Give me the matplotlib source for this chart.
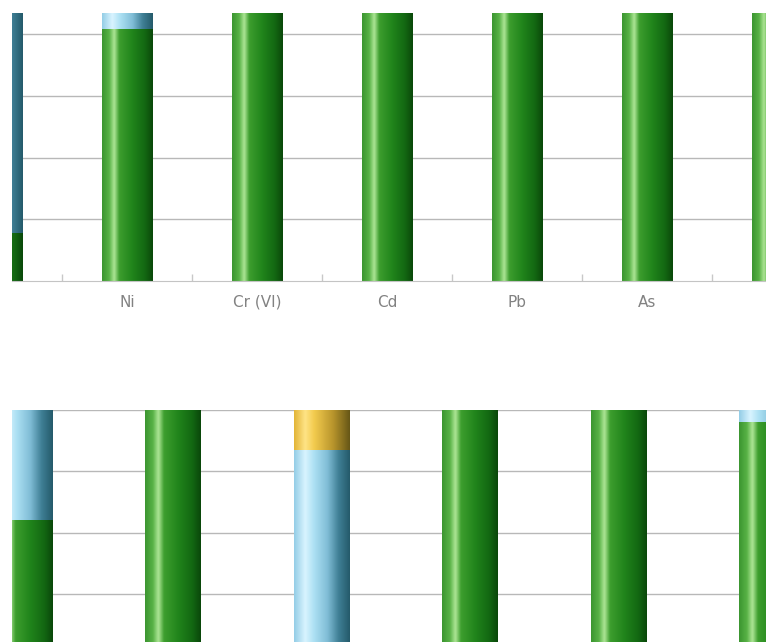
import numpy as np
import matplotlib
matplotlib.use("Agg")
import matplotlib.pyplot as plt
from matplotlib.colors import LinearSegmentedColormap

# -----------------------------
# Data (shares per category, %)
# -----------------------------
top_labels = ["", "Ni", "Cr (VI)", "Cd", "Pb", "As", ""]
top_green = [18, 94, 100, 100, 100, 100, 100]
top_blue = [82, 6, 0, 0, 0, 0, 0]

bottom_green = [64, 100, 0, 100, 100, 96]
bottom_blue = [36, 0, 87, 0, 0, 4]
bottom_yellow = [0, 0, 13, 0, 0, 0]

# -----------------------------
# Cylinder-like shading
# -----------------------------
cm_green = LinearSegmentedColormap.from_list("g", [
    (0.0, "#3b9530"), (0.14, "#58b246"), (0.24, "#aee696"), (0.34, "#3d9e2e"),
    (0.6, "#20841b"), (0.85, "#136712"), (1.0, "#0a470a")])
cm_blue = LinearSegmentedColormap.from_list("b", [
    (0.0, "#93cde6"), (0.2, "#d9f4ff"), (0.36, "#ace0f3"), (0.6, "#80bdd6"),
    (0.8, "#3f7f95"), (1.0, "#245a6a")])
cm_yellow = LinearSegmentedColormap.from_list("y", [
    (0.0, "#e2b436"), (0.2, "#ffe486"), (0.36, "#f3cb4e"), (0.7, "#b8952c"),
    (1.0, "#665616")])

grad = np.linspace(0, 1, 256).reshape(1, -1)


def shade(ax, bars, cmap):
    for p in bars:
        h = p.get_height()
        if h <= 0:
            continue
        x0, y0, w = p.get_x(), p.get_y(), p.get_width()
        ax.imshow(grad, cmap=cmap, aspect="auto", interpolation="bicubic",
                  extent=[x0, x0 + w, y0, y0 + h], zorder=2)
        p.set_visible(False)


W, H = 766, 642
fig = plt.figure(figsize=(W / 100, H / 100), dpi=100)

# -----------------------------
# Top panel
# -----------------------------
ax1 = fig.add_axes([12 / W, (H - 281) / H, (W - 12) / W, 268 / H])
x1 = np.arange(len(top_labels))
b = ax1.bar(x1, top_green, width=0.385)
shade(ax1, b, cm_green)
b = ax1.bar(x1, top_blue, width=0.385, bottom=top_green)
shade(ax1, b, cm_blue)

ax1.set_yticks([23, 46, 69, 92])
ax1.set_xticks(x1)
ax1.set_xticklabels(top_labels, color="#828282", fontsize=11)
ax1.set_xticks(x1[:-1] + 0.5, minor=True)
ax1.set_xlim(0.115, 5.915)
ax1.set_ylim(0, 100)
ax1.tick_params(axis="x", which="major", length=0, pad=10)
ax1.tick_params(axis="x", which="minor", direction="in", length=5,
                color="#c8c8c8", width=1)
ax1.tick_params(axis="y", length=0, labelleft=False)
ax1.yaxis.grid(True, color="#b8b8b8", linewidth=1)
ax1.set_axisbelow(True)
for s in ["top", "left", "right"]:
    ax1.spines[s].set_visible(False)
ax1.spines["bottom"].set_color("#c4c4c4")

# -----------------------------
# Bottom panel
# -----------------------------
ax2 = fig.add_axes([12 / W, (H - 716.5) / H, (W - 12) / W, 306.5 / H])
x2 = np.arange(len(bottom_green))
b = ax2.bar(x2, bottom_green, width=0.377)
shade(ax2, b, cm_green)
base = np.array(bottom_green)
b = ax2.bar(x2, bottom_blue, width=0.377, bottom=base)
shade(ax2, b, cm_blue)
base = base + np.array(bottom_blue)
b = ax2.bar(x2, bottom_yellow, width=0.377, bottom=base)
shade(ax2, b, cm_yellow)

ax2.set_yticks([20, 40, 60, 80, 100])
ax2.set_xlim(-0.084, 4.993)
ax2.set_ylim(0, 100)
ax2.tick_params(axis="both", length=0, labelleft=False, labelbottom=False)
ax2.yaxis.grid(True, color="#b8b8b8", linewidth=1)
ax2.set_axisbelow(True)
for s in ax2.spines.values():
    s.set_visible(False)

fig.savefig("out.png", dpi=100)
